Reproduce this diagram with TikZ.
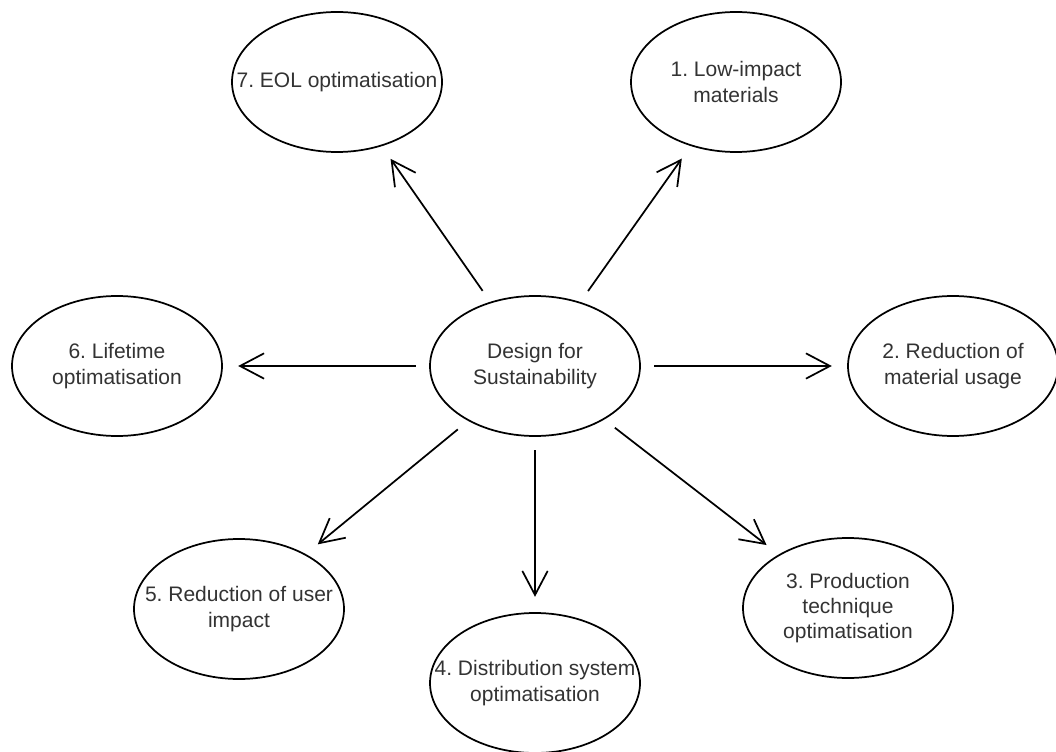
\documentclass[tikz,border=0pt]{standalone}
\usepackage{fontspec}
\setmainfont{Liberation Sans}
\usetikzlibrary{arrows.meta,shapes.geometric}
\definecolor{labelgray}{HTML}{333333}
\frenchspacing
\begin{document}
\begin{tikzpicture}[x=0.75pt,y=-0.75pt,
  topic/.style={ellipse,draw=black,line width=1.3pt,fill=white,
    minimum width=157.5pt,minimum height=105pt,inner sep=0pt},
  caption/.style={align=center,text=labelgray,inner sep=0pt,
    font=\fontsize{15.75}{18.9}\selectfont},
  flow/.style={draw=black,line width=1.3pt,
    -{Straight Barb[length=18pt,width=19pt]},
    shorten <=10pt,shorten >=11.5pt}]
  \useasboundingbox (0,0) rectangle (1056,752);

  % hub and the seven strategies around it
  \node[topic] (hub) at (535,366) {};
  \node[topic] (s1) at (736,82) {};
  \node[topic] (s2) at (953,366) {};
  \node[topic] (s3) at (848,608) {};
  \node[topic] (s4) at (535,683) {};
  \node[topic] (s5) at (239,609) {};
  \node[topic] (s6) at (117,366) {};
  \node[topic] (s7) at (337,82) {};

  % captions, set over the ellipses
  \node[caption] (hubt) at (hub) {Design for\\Sustainability};
  \node[caption] (s1t) at (s1) {1. Low-impact\\materials};
  \node[caption] (s2t) at (s2) {2. Reduction of\\material usage};
  \node[caption] (s3t) at (s3) {3. Production\\technique\\optimatisation};
  \node[caption] (s4t) at (s4) {4. Distribution system\\optimatisation};
  \node[caption] (s5t) at (s5) {5. Reduction of user\\impact};
  \node[caption] (s6t) at (s6) {6. Lifetime\\optimatisation};
  \node[caption] (s7t) at (s7) {7. EOL optimatisation};

  % arrows from the hub
  \foreach \s in {s1,s2,s3,s4,s5,s6,s7}
    \draw[flow] (hub) -- (\s);
\end{tikzpicture}
\end{document}
